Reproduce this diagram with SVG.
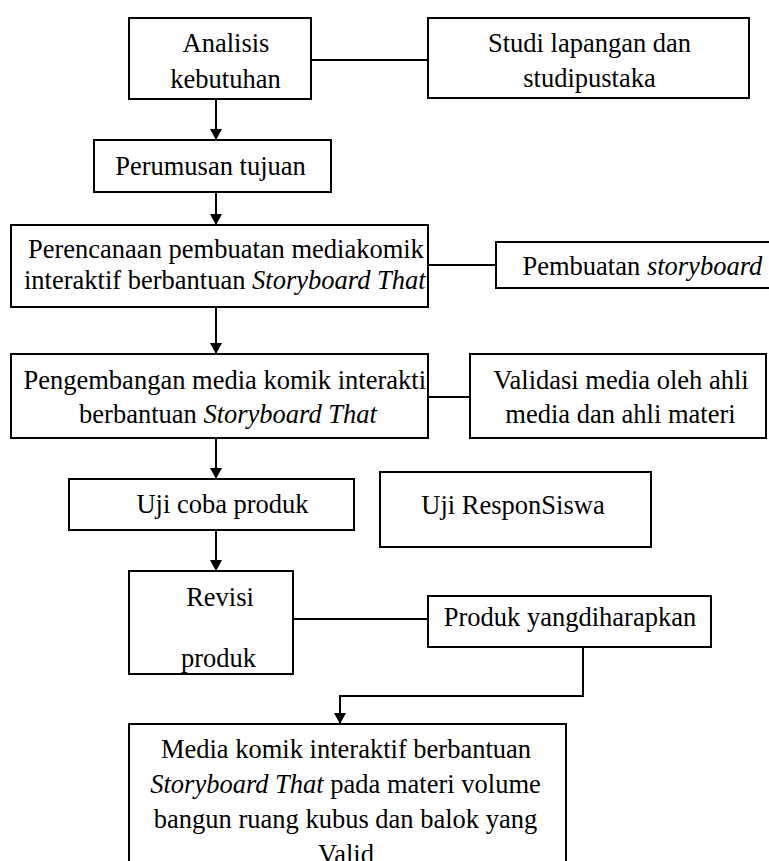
<svg xmlns="http://www.w3.org/2000/svg" width="769" height="861" viewBox="0 0 769 861" font-family="Liberation Serif, Times New Roman, serif">
<style>
.box{fill:#fff;stroke:#000;stroke-width:2}
.ln{fill:none;stroke:#000;stroke-width:2}
text{font-family:"Liberation Serif",serif;font-size:26.5px;fill:#000}
.c{text-anchor:middle}
.i{font-style:italic}
</style>
<defs>
<marker id="ah" markerWidth="11" markerHeight="12" refX="11" refY="6" orient="auto" markerUnits="userSpaceOnUse" viewBox="0 0 11 12">
<path d="M0,0 L11,6 L0,12 Z" fill="#000"/>
</marker>
<clipPath id="cp1"><rect x="12" y="226" width="415" height="80"/></clipPath>
<clipPath id="cp2"><rect x="12" y="355" width="415" height="82"/></clipPath>
</defs>
<rect width="769" height="861" fill="#fff"/>
<g id="connectors">
<line class="ln" x1="216" y1="99" x2="216" y2="140" marker-end="url(#ah)"/>
<line class="ln" x1="216" y1="193" x2="216" y2="225" marker-end="url(#ah)"/>
<line class="ln" x1="216" y1="307" x2="216" y2="354" marker-end="url(#ah)"/>
<line class="ln" x1="216" y1="438" x2="216" y2="479" marker-end="url(#ah)"/>
<line class="ln" x1="216" y1="530" x2="216" y2="571" marker-end="url(#ah)"/>
<path class="ln" d="M583,647 V696 H340 V724" marker-end="url(#ah)"/>
<line class="ln" x1="311" y1="60" x2="428" y2="60"/>
<line class="ln" x1="428" y1="265" x2="496" y2="265"/>
<line class="ln" x1="428" y1="397" x2="470" y2="397"/>
<line class="ln" x1="293" y1="619" x2="428" y2="619"/>
</g>
<g id="analisis">
<rect class="box" x="129" y="18" width="182" height="81"/>
<text class="c" x="226" y="52">Analisis</text>
<text class="c" x="225.5" y="88">kebutuhan</text>
</g>
<g id="studi">
<rect class="box" x="428" y="18" width="321" height="80"/>
<text class="c" x="589.5" y="52">Studi lapangan dan</text>
<text class="c" x="589.5" y="87">studipustaka</text>
</g>
<g id="perumusan">
<rect class="box" x="94" y="140" width="237" height="52"/>
<text class="c" x="210.5" y="175">Perumusan tujuan</text>
</g>
<g id="perencanaan">
<rect class="box" x="11" y="225" width="417" height="82"/>
<g clip-path="url(#cp1)">
<text x="28" y="258">Perencanaan pembuatan mediakomik</text>
<text x="24" y="289">interaktif berbantuan <tspan class="i">Storyboard That</tspan></text>
</g>
</g>
<g id="pembuatan">
<rect class="box" x="496" y="242" width="280" height="46"/>
<text x="522.5" y="275">Pembuatan <tspan class="i">storyboard</tspan></text>
</g>
<g id="pengembangan">
<rect class="box" x="11" y="354" width="417" height="84"/>
<g clip-path="url(#cp2)">
<text x="23.5" y="389">Pengembangan media komik interaktif</text>
<text class="c" x="228" y="423">berbantuan <tspan class="i">Storyboard That</tspan></text>
</g>
</g>
<g id="validasi">
<rect class="box" x="470" y="354" width="296" height="84"/>
<text class="c" x="621" y="389">Validasi media oleh ahli</text>
<text class="c" x="620.5" y="423">media dan ahli materi</text>
</g>
<g id="ujicoba">
<rect class="box" x="69" y="479" width="285" height="51"/>
<text class="c" x="222.5" y="513">Uji coba produk</text>
</g>
<g id="ujirespon">
<rect class="box" x="380" y="472" width="271" height="75"/>
<text class="c" x="513" y="514">Uji ResponSiswa</text>
</g>
<g id="revisi">
<rect class="box" x="129" y="571" width="164" height="103"/>
<text class="c" x="220" y="606">Revisi</text>
<text class="c" x="218.5" y="667">produk</text>
</g>
<g id="produk">
<rect class="box" x="428" y="596" width="283" height="51"/>
<text class="c" x="570" y="626">Produk yangdiharapkan</text>
</g>
<g id="media">
<rect class="box" x="129" y="724" width="437" height="150"/>
<text class="c" x="346" y="758">Media komik interaktif berbantuan</text>
<text class="c" x="345.5" y="793"><tspan class="i">Storyboard That</tspan> pada materi volume</text>
<text class="c" x="345.5" y="828">bangun ruang kubus dan balok yang</text>
<text class="c" x="346" y="863">Valid</text>
</g>
</svg>
